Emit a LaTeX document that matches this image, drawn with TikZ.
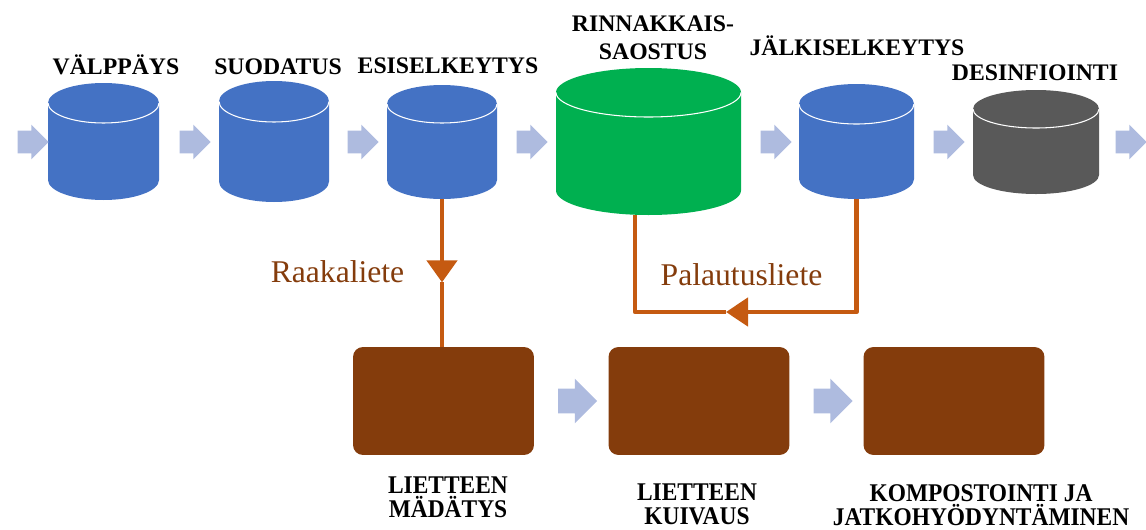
\documentclass[tikz,border=0pt]{standalone}
\usepackage{fontspec}
\setmainfont{Liberation Serif}
\newfontfamily\narrowserif[FakeStretch=0.92]{Liberation Serif}
\usepackage{xcolor}
\usepackage{tikz}
\usetikzlibrary{arrows.meta, positioning, fit, calc, shapes.arrows}
\definecolor{wblue}{HTML}{4472C4}
\definecolor{wgreen}{HTML}{00B050}
\definecolor{wgrey}{HTML}{595959}
\definecolor{wbrown}{HTML}{843C0C}
\definecolor{wpipe}{HTML}{C55A11}
\definecolor{wflow}{HTML}{AEBBDF}

% tank: name, centre x, top y, bottom y, half width, half height of the ends, colour
\newcommand{\tank}[7]{%
  \fill[#7] (#2-#5,#3-#6) -- (#2-#5,#4+#6)
    arc[start angle=180, end angle=360, x radius=#5, y radius=#6]
    -- (#2+#5,#3-#6)
    arc[start angle=0, end angle=180, x radius=#5, y radius=#6] -- cycle;
  \draw[white, line width=0.6pt] (#2-#5,#3-#6)
    arc[start angle=180, end angle=360, x radius=#5, y radius=#6];
  \node[inner sep=0, fit={(#2-#5,#3) (#2+#5,#4)}] (#1) {};
}

\begin{document}
\begin{tikzpicture}[x=0.02cm, y=0.02cm,
  stagelabel/.style={font=\fontsize{13.5}{16}\selectfont\bfseries, anchor=base, inner sep=0},
  sludgelabel/.style={font=\narrowserif\fontsize{14.5}{13.8}\selectfont\bfseries, align=center, inner sep=0},
  flow/.style={single arrow, fill=wflow, inner xsep=0, inner ysep=0.22cm, minimum height=0.62cm,
    minimum width=0.68cm, single arrow head extend=0.12cm},
  bigflow/.style={flow, inner ysep=0.24cm, minimum height=0.78cm, minimum width=0.88cm,
    single arrow head extend=0.2cm},
  sludge/.style={fill=wbrown, rounded corners=0.2cm, minimum width=3.62cm, minimum height=2.16cm, inner sep=0},
  pipe/.style={draw=wpipe, line width=2.6pt, line join=round},
  pipelabel/.style={font=\fontsize{18}{20}\selectfont, text=wbrown, anchor=base, inner sep=0}]
\useasboundingbox (0,0) rectangle (1146,529);

% water line
\tank{valp}{103.5}{446}{329}{55.5}{20}{wblue}
\tank{suod}{274}{448}{327}{55}{20.5}{wblue}
\tank{esi}{442}{444}{330}{55}{19}{wblue}
\tank{rinn}{648.5}{461}{314}{92.5}{24.5}{wgreen}
\tank{jalk}{856.5}{445}{330}{57.5}{20}{wblue}
\tank{desi}{1036}{439}{335}{63}{19}{wgrey}

\node[stagelabel] (valp-l) at (116,455) {VÄLPPÄYS};
\node[stagelabel] (suod-l) at (278,455) {SUODATUS};
\node[stagelabel] (esi-l) at (448,456) {ESISELKEYTYS};
\node[font=\fontsize{13.5}{15.9}\selectfont\bfseries, align=center, inner sep=0]
  (rinn-l) at (653,491.5) {RINNAKKAIS-\\SAOSTUS};
\node[stagelabel] (jalk-l) at (857,474) {JÄLKISELKEYTYS};
\node[stagelabel] (desi-l) at (1035,449) {DESINFIOINTI};

\node[flow] (f1) at (27.5,387) {};
\node[flow] (f2) at (189.5,387) {};
\node[flow] (f3) at (357.5,387) {};
\node[flow] (f4) at (526.5,387) {};
\node[flow] (f5) at (770.5,387) {};
\node[flow] (f6) at (943.5,387) {};
\node[flow] (f7) at (1125.5,387) {};

% sludge line
\node[sludge] (madatys) at (443.5,128) {};
\node[sludge] (kuivaus) at (699,128) {};
\node[sludge] (kompost) at (954,128) {};
\node[bigflow] (g1) at (571.5,128) {};
\node[bigflow] (g2) at (827,128) {};

\node[sludgelabel] (madatys-l) at (448,31.5) {LIETTEEN\\MÄDÄTYS};
\node[sludgelabel] (kuivaus-l) at (697,25) {LIETTEEN\\KUIVAUS};
\node[sludgelabel] (kompost-l) at (981,24) {KOMPOSTOINTI JA\\JATKOHYÖDYNTÄMINEN};

% sludge pipes
\coordinate (raw) at ($(esi.south)+(0,-83)$);
\draw[pipe, -{Triangle[length=0.44cm, width=0.6cm]}] (esi.south) -- (raw);
\draw[pipe] (raw) -- (raw |- madatys.north);
\node[pipelabel] (raw-l) at (337.5,247) {Raakaliete};

\coordinate (ret) at (726,217);
\draw[pipe, -{Triangle[length=0.44cm, width=0.56cm]}] (jalk.south) |- (ret);
\draw[pipe] (ret) -| ([xshift=-0.27cm]rinn.south);
\node[pipelabel] (ret-l) at (741.5,244) {Palautusliete};
\end{tikzpicture}
\end{document}
